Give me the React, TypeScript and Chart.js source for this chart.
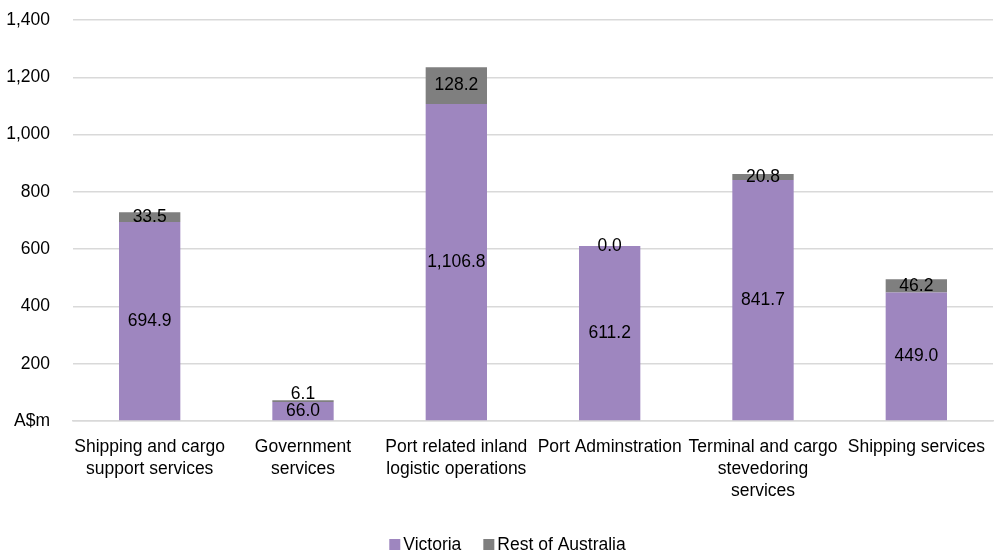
import React, { useEffect, useRef } from "react";
import { Chart, registerables } from "chart.js";

Chart.register(...registerables);

const categories: string[][] = [
  ["Shipping and cargo", "support services"],
  ["Government", "services"],
  ["Port related inland", "logistic operations"],
  ["Port Adminstration"],
  ["Terminal and cargo", "stevedoring", "services"],
  ["Shipping services"],
];
const victoria = [694.9, 66.0, 1106.8, 611.2, 841.7, 449.0];
const restOfAustralia = [33.5, 6.1, 128.2, 0.0, 20.8, 46.2];
const yTicks = [0, 200, 400, 600, 800, 1000, 1200, 1400];
const zeroTickLabel = "A$m";

const FONT = "'Liberation Sans', Arial, sans-serif";
const FS = 17.5;
const fmt = (v: number) =>
  v.toLocaleString("en-US", { minimumFractionDigits: 1, maximumFractionDigits: 1 });

const labelPlugin = {
  id: "segLabels",
  afterDatasetsDraw(chart: any) {
    const ctx = chart.ctx;
    ctx.save();
    ctx.font = `${FS}px ${FONT}`;
    ctx.fillStyle = "#000";
    ctx.textAlign = "center";
    ctx.textBaseline = "middle";
    const m0 = chart.getDatasetMeta(0);
    const m1 = chart.getDatasetMeta(1);
    m0.data.forEach((bar: any, i: number) => {
      const c0 = (bar.y + bar.base) / 2;
      ctx.fillText(fmt(chart.data.datasets[0].data[i]), bar.x, c0);
      const b1 = m1.data[i];
      let c1 = (b1.y + b1.base) / 2;
      if (c1 > c0 - 17) c1 = c0 - 17;
      ctx.fillText(fmt(chart.data.datasets[1].data[i]), b1.x, c1);
    });
    ctx.restore();
  },
};

const legendPlugin = {
  id: "customLegend",
  afterDraw(chart: any) {
    const ctx = chart.ctx;
    ctx.save();
    ctx.font = `${FS}px ${FONT}`;
    ctx.textBaseline = "middle";
    ctx.textAlign = "left";
    const box = 11;
    const boxGap = 3;
    const itemGap = 22;
    const items = chart.data.datasets.map((d: any) => ({
      text: d.label,
      color: d.backgroundColor,
      w: ctx.measureText(d.label).width,
    }));
    const total =
      items.reduce((s: number, it: any) => s + box + boxGap + it.w, 0) +
      itemGap * (items.length - 1);
    const cy = 545;
    let x = chart.width / 2 + 10 - total / 2;
    items.forEach((it: any) => {
      ctx.fillStyle = it.color;
      ctx.fillRect(x, cy - 6, box, box);
      x += box + boxGap;
      ctx.fillStyle = "#000";
      ctx.fillText(it.text, x, cy);
      x += it.w + itemGap;
    });
    ctx.restore();
  },
};

export default function App() {
  const ref = useRef<HTMLCanvasElement>(null);
  useEffect(() => {
    document.body.style.margin = "0";
    const chart = new Chart(ref.current!, {
      type: "bar",
      data: {
        labels: categories,
        datasets: [
          {
            label: "Victoria",
            data: victoria,
            backgroundColor: "#9e86bf",
            barPercentage: 0.8,
            categoryPercentage: 0.5,
          },
          {
            label: "Rest of Australia",
            data: restOfAustralia,
            backgroundColor: "#7f7f7f",
            barPercentage: 0.8,
            categoryPercentage: 0.5,
          },
        ],
      },
      options: {
        animation: false,
        responsive: false,
        layout: { padding: { top: 20, right: 2, left: 0, bottom: 48 } },
        plugins: {
          tooltip: { enabled: false },
          legend: { display: false },
        },
        scales: {
          x: {
            stacked: true,
            grid: { display: false, drawTicks: false },
            border: { color: "#d9d9d9", width: 1.5 },
            ticks: {
              color: "#000",
              padding: 15,
              maxRotation: 0,
              autoSkip: false,
              font: { family: FONT, size: FS, lineHeight: 22 / FS },
            },
            afterFit(scale: any) {
              scale.height = 86;
              scale.paddingTop = 0;
              scale.paddingBottom = 0;
              scale.paddingLeft = 0;
              scale.paddingRight = 0;
            },
          },
          y: {
            stacked: true,
            min: 0,
            max: 1400,
            afterBuildTicks(scale: any) {
              scale.ticks = yTicks.map((v) => ({ value: v }));
            },
            grid: { color: "#d9d9d9", lineWidth: 1.5, drawTicks: false },
            border: { display: false },
            ticks: {
              color: "#000",
              padding: 23,
              font: { family: FONT, size: FS },
              callback: (v: any) =>
                Number(v) === 0 ? zeroTickLabel : Number(v).toLocaleString("en-US"),
            },
            afterFit(scale: any) {
              scale.width = 73;
              scale.paddingTop = 0;
              scale.paddingBottom = 0;
              scale.paddingLeft = 0;
              scale.paddingRight = 0;
            },
          },
        },
      },
      plugins: [labelPlugin, legendPlugin],
    });
    return () => chart.destroy();
  }, []);
  return (
    <div style={{ width: 995, height: 555, overflow: "hidden", background: "#fff" }}>
      <canvas ref={ref} width={995} height={555} style={{ display: "block" }} />
    </div>
  );
}
